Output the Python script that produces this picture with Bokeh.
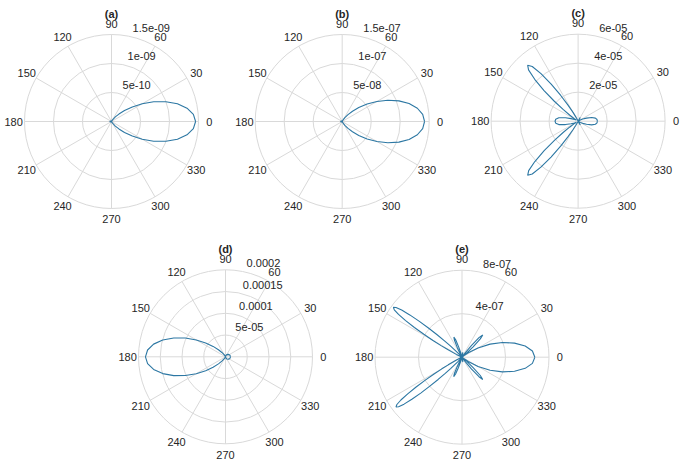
import numpy as np
from bokeh.plotting import figure
from bokeh.layouts import column, row
from bokeh.models import Range1d
from bokeh.core.properties import value
from bokeh.embed import file_html
from bokeh.resources import INLINE

# ---------------- data (angles in degrees, radii in panel units) ----------------
theta_ticks = [0, 30, 60, 90, 120, 150, 180, 210, 240, 270, 300, 330]

# (a) radii in units of 1e-10
theta_a = [0, 5, 10, 15, 20, 25, 30, 35, 40, 45, 50, 55, 60, 70, 80, 90, 135, 180, 225,
           270, 280, 290, 300, 305, 310, 315, 320, 325, 330, 335, 340, 345, 350, 355, 360]
r_a = [14.5, 14.17, 13.22, 11.77, 9.98, 8.03, 6.12, 4.38, 2.93, 1.81, 1.03, 0.52, 0.23, 0.02, 0, 0, 0.15, 0.3, 0.15,
       0, 0, 0.02, 0.23, 0.52, 1.03, 1.81, 2.93, 4.38, 6.12, 8.03, 9.98, 11.77, 13.22, 14.17, 14.5]
rings_a = [5, 10, 15]
ring_labels_a = ["5e-10", "1e-09", "1.5e-09"]

# (b) radii in units of 1e-8
theta_b = [0, 5, 10, 15, 20, 25, 30, 35, 40, 45, 50, 55, 60, 70, 80, 90, 135, 180, 225,
           270, 280, 290, 300, 305, 310, 315, 320, 325, 330, 335, 340, 345, 350, 355, 360]
r_b = [14.2, 13.93, 13.16, 11.94, 10.41, 8.69, 6.92, 5.24, 3.73, 2.51, 1.56, 0.88, 0.44, 0.07, 0, 0, 0.15, 0.3, 0.15,
       0, 0, 0.07, 0.44, 0.88, 1.56, 2.51, 3.73, 5.24, 6.92, 8.69, 10.41, 11.94, 13.16, 13.93, 14.2]
rings_b = [5, 10, 15]
ring_labels_b = ["5e-08", "1e-07", "1.5e-07"]

# (c) radii in units of 1e-5
theta_c = [0, 5, 10, 15, 20, 25, 30, 40, 50, 55, 60, 65, 70,
           112, 114, 116, 118, 120, 122, 124, 126, 128, 130, 132, 134, 136, 138, 140, 142, 144, 146, 148,
           150, 155, 160, 165, 170, 175, 180, 185, 190, 195, 200, 205, 209,
           211, 213, 215, 217, 219, 221, 223, 225, 227, 229, 231, 233, 235, 237, 239, 241, 243, 245, 247,
           295, 300, 305, 310, 320, 330, 335, 340, 345, 350, 355, 360]
r_c = [1.33, 1.31, 1.21, 0.97, 0.62, 0.35, 0.17, 0.03, 0, 0.05, 0.3, 0.05, 0,
       0, 0.06, 0.15, 0.34, 0.70, 1.29, 2.14, 3.16, 4.16, 4.92, 5.2, 4.92, 4.16, 3.16, 2.14, 1.29, 0.70, 0.34, 0.15,
       0.2, 0.28, 0.52, 0.90, 1.35, 1.55, 1.59, 1.55, 1.35, 0.90, 0.52, 0.28, 0.2,
       0.14, 0.34, 0.69, 1.27, 2.10, 3.10, 4.08, 4.82, 5.1, 4.82, 4.08, 3.10, 2.10, 1.27, 0.69, 0.34, 0.14, 0.06, 0,
       0.05, 0.3, 0.05, 0, 0.03, 0.17, 0.35, 0.62, 0.97, 1.21, 1.31, 1.33]
rings_c = [2, 4, 6]
ring_labels_c = ["2e-05", "4e-05", "6e-05"]

# (d) radii in units of 1e-5
theta_d = [0, 20, 40, 60, 80, 90, 100, 110, 120, 125, 130, 135, 140, 145, 150, 155, 160, 165, 170, 175,
           180, 185, 190, 195, 200, 205, 210, 215, 220, 225, 230, 235, 240, 250, 260, 270, 280, 300,
           320, 340, 360]
r_d = [1.15, 1.08, 0.88, 0.57, 0.2, 0, 0, 0.03, 0.29, 0.66, 1.30, 2.30, 3.72, 5.56, 7.76, 10.19, 12.66, 14.94, 16.78, 17.98,
       18.4, 17.98, 16.78, 14.94, 12.66, 10.19, 7.76, 5.56, 3.72, 2.30, 1.30, 0.66, 0.29, 0.03, 0, 0, 0.2, 0.57,
       0.88, 1.08, 1.15]
rings_d = [5, 10, 15, 20]
ring_labels_d = ["5e-05", "0.0001", "0.00015", "0.0002"]

# (e) radii in units of 1e-7
theta_e = [0, 5, 10, 15, 20, 25, 30, 35, 38, 40,
           41, 43, 45, 47, 49, 51, 53, 55, 56,
           74, 78, 80, 82, 86,
           103, 104, 106, 108, 110, 112, 114, 116, 118, 120, 121,
           128, 130, 132, 134, 136, 137, 138, 139, 140, 141, 142, 143, 144, 145, 146, 147, 148, 149, 150, 151, 152, 154, 156, 158, 160,
           170, 180, 190,
           201, 203, 205, 207, 209, 210, 211, 212, 213, 214, 215, 216, 217, 218, 219, 220, 221, 222, 223, 224, 225, 227, 229, 231, 233,
           238, 239, 241, 243, 245, 247, 249, 251, 253, 255, 256,
           274, 278, 280, 282, 286,
           304, 305, 307, 309, 311, 313, 315, 317, 319, 320,
           322, 325, 330, 335, 340, 345, 350, 355, 360]
r_e = [6.7, 6.5, 5.9, 5.0, 3.95, 2.85, 1.7, 0.7, 0.2, 0,
       0.56, 1.4, 2.38, 2.8, 2.38, 1.4, 0.56, 0.14, 0,
       0, 0.3, 0.45, 0.3, 0,
       0, 0.1, 0.4, 1.0, 1.7, 2.0, 1.7, 1.0, 0.4, 0.1, 0,
       0, 0.05, 0.19, 0.59, 1.49, 2.20, 3.08, 4.09, 5.16, 6.18, 7.04, 7.60, 7.8, 7.60, 7.04, 6.18, 5.16, 4.09, 3.08, 2.20, 1.49, 0.59, 0.19, 0.05, 0,
       0, 0.2, 0,
       0, 0.05, 0.18, 0.58, 1.45, 2.14, 3.00, 3.98, 5.03, 6.02, 6.86, 7.40, 7.6, 7.40, 6.86, 6.02, 5.03, 3.98, 3.00, 2.14, 1.45, 0.58, 0.18, 0.05, 0,
       0, 0.1, 0.4, 1.0, 1.65, 1.95, 1.65, 1.0, 0.4, 0.1, 0,
       0, 0.3, 0.45, 0.3, 0,
       0, 0.14, 0.56, 1.4, 2.38, 2.8, 2.38, 1.4, 0.56, 0,
       0.2, 0.7, 1.7, 2.85, 3.95, 5.0, 5.9, 6.5, 6.7]
rings_e = [4, 8]
ring_labels_e = ["4e-07", "8e-07"]

# ---------------- styling ----------------
PX = 87.0          # pixels of the outer ring radius
FONT = value("Liberation Sans")
GRID = "#d9d9d9"
TXT = "#262626"
LINE = "#2c77a3"


def panel(title, theta, r, rings, ring_labels, X0, X1, Y0, Y1, cx, cy):
    rmax = rings[-1]
    p = figure(width=X1 - X0, height=Y1 - Y0, output_backend="svg", toolbar_location=None,
               x_range=Range1d((X0 - cx) / PX, (X1 - cx) / PX),
               y_range=Range1d((cy - Y1) / PX, (cy - Y0) / PX),
               x_axis_type=None, y_axis_type=None, min_border=0, tools="")
    p.outline_line_color = None
    p.background_fill_color = "white"
    p.border_fill_color = "white"

    # rings
    fr = [v / rmax for v in rings]
    p.circle(x=[0] * len(fr), y=[0] * len(fr), radius=fr, fill_color=None,
             line_color=GRID, line_width=1)
    # spokes
    t = np.deg2rad(theta_ticks)
    p.segment(x0=np.zeros(len(t)), y0=np.zeros(len(t)), x1=np.cos(t), y1=np.sin(t),
              line_color=GRID, line_width=1)
    # angle labels
    p.text(x=1.125 * np.cos(t), y=1.125 * np.sin(t), text=[str(d) for d in theta_ticks],
           text_font=FONT, text_font_size="11px", text_color=TXT,
           text_align="center", text_baseline="middle")
    # radial labels along 80 deg
    a80 = np.deg2rad(80)
    p.text(x=[f * np.cos(a80) for f in fr], y=[f * np.sin(a80) for f in fr], text=ring_labels,
           text_font=FONT, text_font_size="11px", text_color=TXT,
           text_align="left", text_baseline="middle", x_offset=6, y_offset=-8)
    # title
    p.text(x=[0], y=[108 / PX], text=[title], text_font=FONT, text_font_size="11px",
           text_font_style="bold", text_color=TXT, text_align="center", text_baseline="middle")

    # pattern
    th = np.deg2rad(theta)
    rn = np.array(r, dtype=float) / rmax
    p.line(rn * np.cos(th), rn * np.sin(th), line_color=LINE, line_width=1.1)
    return p


pa = panel("(a)", theta_a, r_a, rings_a, ring_labels_a, 0, 226, 0, 238, 111, 121)
pb = panel("(b)", theta_b, r_b, rings_b, ring_labels_b, 226, 460, 0, 238, 341.7, 121)
pc = panel("(c)", theta_c, r_c, rings_c, ring_labels_c, 460, 685, 0, 238, 577.6, 120.7)
pd = panel("(d)", theta_d, r_d, rings_d, ring_labels_d, 0, 343, 238, 470, 225, 356.3)
pe = panel("(e)", theta_e, r_e, rings_e, ring_labels_e, 343, 685, 238, 470, 461.5, 356.7)

layout = column(row(pa, pb, pc), row(pd, pe))
open("out.html", "w").write(file_html(layout, INLINE))
